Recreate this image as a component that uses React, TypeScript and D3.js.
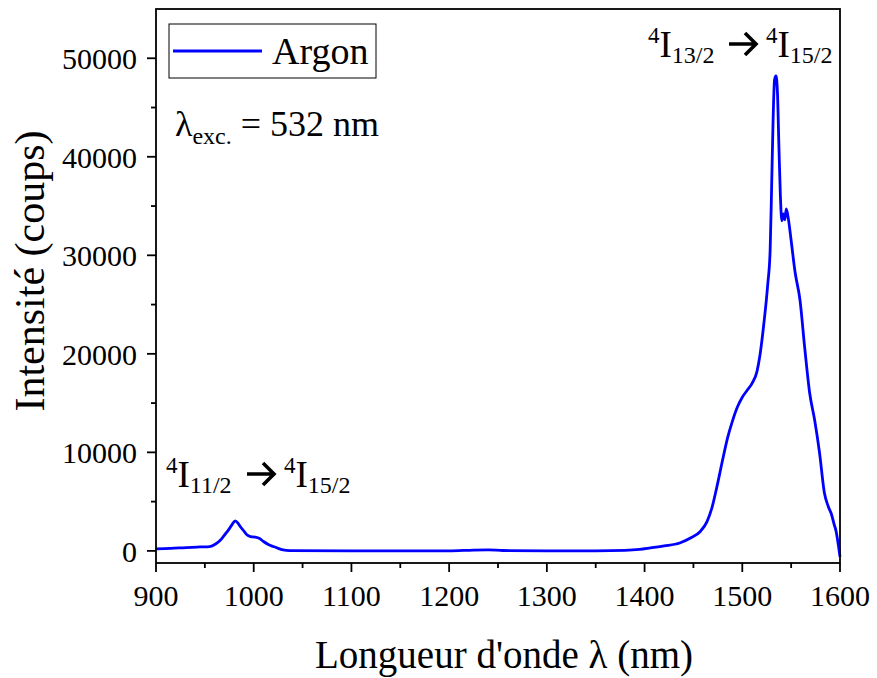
import React from "react";
import * as d3 from "d3";

const wavelengths = [900, 915, 931, 945, 955, 961, 966, 970, 974, 978, 981, 984, 986, 990, 993, 997, 1001, 1006, 1010, 1015, 1020, 1025, 1030, 1037, 1100, 1200, 1225, 1240, 1255, 1300, 1350, 1380, 1395, 1406, 1420, 1436, 1447, 1457, 1464, 1469, 1474, 1480, 1485, 1490, 1495, 1500, 1505, 1510, 1515, 1518, 1522, 1526, 1528.5, 1530, 1531.5, 1533, 1534.5, 1536, 1537.5, 1539, 1540.5, 1542, 1543.5, 1545, 1547, 1550, 1554, 1559, 1564, 1569, 1574, 1579, 1584, 1588, 1591, 1594, 1596, 1598, 1600];
const intensity = [200, 250, 340, 400, 440, 700, 1100, 1600, 2100, 2700, 3050, 2800, 2500, 2000, 1630, 1450, 1400, 1250, 950, 650, 440, 250, 100, 20, 0, 0, 80, 100, 40, 0, 0, 50, 150, 300, 500, 800, 1300, 1970, 3000, 4400, 6500, 9300, 11500, 13200, 14600, 15600, 16300, 17000, 18200, 19800, 23000, 27000, 30500, 36800, 43600, 47800, 48200, 46500, 41000, 36000, 33500, 34200, 33600, 34700, 33800, 31500, 28300, 25500, 20500, 16000, 13300, 10000, 5900, 4500, 3800, 2700, 2000, 800, -600];

const xTicks = [900, 1000, 1100, 1200, 1300, 1400, 1500, 1600];
const xMinor = [950, 1050, 1150, 1250, 1350, 1450, 1550];
const yTicks = [0, 10000, 20000, 30000, 40000, 50000];
const yMinor = [5000, 15000, 25000, 35000, 45000];
const seriesName = "Argon";

const FONT = "'Liberation Serif', 'Times New Roman', Times, 'Nimbus Roman', 'Noto Serif', 'DejaVu Serif', FreeSerif, Tinos, serif";

function Transition({ x, y, from, to }: { x: number; y: number; from: string; to: string }) {
  return (
    <g>
      <text x={x} y={y} fontSize={37}>
        <tspan fontSize={23} dy={-14}>4</tspan><tspan dy={14}>I</tspan><tspan fontSize={24} dy={6}>{from}</tspan>
      </text>
      <path d={`M${x + 81},${y - 13} h26 M${x + 97},${y - 24} l11,11 l-11,11`} fill="none" stroke="#000" strokeWidth={3.6} />
      <text x={x + 118} y={y} fontSize={37}>
        <tspan fontSize={23} dy={-14}>4</tspan><tspan dy={14}>I</tspan><tspan fontSize={24} dy={6}>{to}</tspan>
      </text>
    </g>
  );
}

export default function App() {
  const W = 877, H = 678;
  const left = 156, right = 840, top = 9, bottom = 563;
  const x = d3.scaleLinear().domain([900, 1600]).range([left, right]);
  const y = d3.scaleLinear().domain([-1230, 55000]).range([bottom, top]);
  const data = wavelengths.map((w, i) => [w, intensity[i]] as [number, number]);
  const line = d3.line<[number, number]>().x(d => x(d[0])).y(d => y(d[1])).curve(d3.curveMonotoneX);
  const blue = "#0000ff";
  return (
    <svg width={W} height={H} style={{ position: "absolute", left: 0, top: 0, background: "#fff" }}>
      <style>{`text { font-family: ${FONT}; }`}</style>
      <rect x={0} y={0} width={W} height={H} fill="#fff" />
      <path d={line(data) || ""} fill="none" stroke={blue} strokeWidth={2.8} strokeLinejoin="round" />
      <rect x={left} y={top} width={right - left} height={bottom - top} fill="none" stroke="#000" strokeWidth={1.8} />
      {xTicks.map(t => (
        <g key={"x" + t}>
          <line x1={x(t)} x2={x(t)} y1={bottom} y2={bottom + 9} stroke="#000" strokeWidth={1.8} />
          <text x={x(t)} y={606} textAnchor="middle" fontSize={30}>{t}</text>
        </g>
      ))}
      {xMinor.map(t => (
        <line key={"xm" + t} x1={x(t)} x2={x(t)} y1={bottom} y2={bottom + 5} stroke="#000" strokeWidth={1.8} />
      ))}
      {yTicks.map(t => (
        <g key={"y" + t}>
          <line x1={left} x2={left - 9} y1={y(t)} y2={y(t)} stroke="#000" strokeWidth={1.8} />
          <text x={137} y={y(t) + 11} textAnchor="end" fontSize={30}>{t}</text>
        </g>
      ))}
      {yMinor.map(t => (
        <line key={"ym" + t} x1={left} x2={left - 5} y1={y(t)} y2={y(t)} stroke="#000" strokeWidth={1.8} />
      ))}
      <text x={504} y={668} textAnchor="middle" fontSize={39}>Longueur d'onde λ (nm)</text>
      <text transform={`translate(44,${271}) rotate(-90)`} textAnchor="middle" fontSize={42}>Intensité (coups)</text>
      <rect x={169} y={24} width={207} height={54} fill="#fff" stroke="#000" strokeWidth={1} />
      <line x1={173} x2={262} y1={51} y2={51} stroke={blue} strokeWidth={2.8} />
      <text x={272} y={64} fontSize={38}>{seriesName}</text>
      <text x={175} y={136} fontSize={36}>λ<tspan fontSize={24} dy={8}>exc.</tspan><tspan dy={-8}> = 532 nm</tspan></text>
      <Transition x={648} y={57} from="13/2" to="15/2" />
      <Transition x={166} y={487} from="11/2" to="15/2" />
    </svg>
  );
}
